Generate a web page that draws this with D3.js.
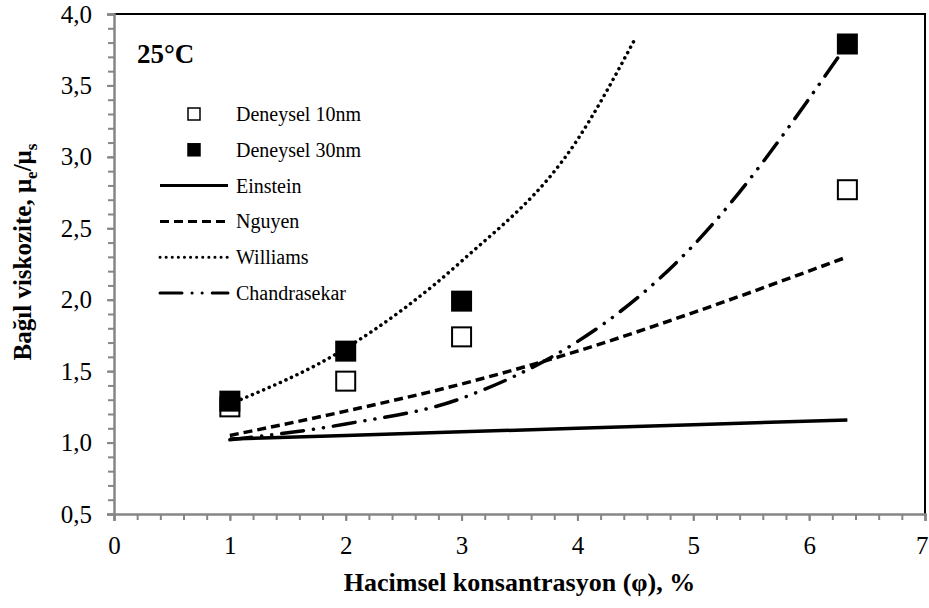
<!DOCTYPE html>
<html>
<head>
<meta charset="utf-8">
<script src="https://cdn.jsdelivr.net/npm/d3@7"></script>
<style>
  body { margin: 0; background: #fff; }
</style>
</head>
<body>
<div id="chart"></div>
<script>
// data
const expX = [1, 2, 3, 6.33];
const deneysel10 = [1.25, 1.43, 1.74, 2.77];
const deneysel30 = [1.29, 1.64, 1.99, 3.79];

const einsteinX = [1, 2, 3, 4, 5, 6.33];
const einstein = [1.025, 1.05, 1.075, 1.10, 1.125, 1.158];

const nguyenX = [1, 2, 3, 4, 5, 6.33];
const nguyen = [1.05, 1.22, 1.41, 1.64, 1.91, 2.30];

const williamsX = [1, 2, 3, 4, 4.5];
const williams = [1.27, 1.66, 2.27, 3.12, 3.83];

const chandraX = [1, 2, 3, 5, 6.33];
const chandra = [1.02, 1.13, 1.31, 2.38, 3.79];

const xTicks = [0, 1, 2, 3, 4, 5, 6, 7];
const yTicks = [0.5, 1.0, 1.5, 2.0, 2.5, 3.0, 3.5, 4.0];

const width = 929, height = 608;
const margin = {left: 114, right: 4, top: 14, bottom: 94};
const serif = "'Liberation Serif', 'Times New Roman', 'DejaVu Serif', serif";

const svg = d3.select("#chart").append("svg")
    .attr("width", width)
    .attr("height", height)
    .style("font-family", serif);

const x = d3.scaleLinear().domain([0, 7]).range([margin.left, width - margin.right]);
const y = d3.scaleLinear().domain([0.5, 4]).range([height - margin.bottom, margin.top]);

const axisGray = "#868686";

// top and right frame
svg.append("path")
    .attr("d", `M${x(0)},${y(4)}H${x(7)}V${y(0.5)}`)
    .attr("fill", "none")
    .attr("stroke", "#000")
    .attr("stroke-width", 2);

// minor ticks
svg.append("g")
    .attr("transform", `translate(0,${y(0.5)})`)
    .call(d3.axisBottom(x).tickValues(d3.range(0, 7.01, 0.2)).tickSize(6).tickFormat(""))
    .call(g => g.select(".domain").remove())
    .call(g => g.selectAll("line").attr("stroke", axisGray).attr("stroke-width", 2));

svg.append("g")
    .attr("transform", `translate(${x(0)},0)`)
    .call(d3.axisLeft(y).tickValues(d3.range(5, 41).map(d => d / 10)).tickSize(6).tickFormat(""))
    .call(g => g.select(".domain").remove())
    .call(g => g.selectAll("line").attr("stroke", axisGray).attr("stroke-width", 2));

// x-axis
svg.append("g")
    .attr("transform", `translate(0,${y(0.5)})`)
    .call(d3.axisBottom(x).tickValues(xTicks).tickSize(7).tickPadding(15).tickFormat(d3.format("d")))
    .attr("font-family", null)
    .call(g => g.select(".domain").attr("stroke", axisGray).attr("stroke-width", 2.5))
    .call(g => g.selectAll("line").attr("stroke", axisGray).attr("stroke-width", 2))
    .call(g => g.selectAll("text").style("font-size", "25px").attr("fill", "#000")
        .style("font-family", serif))
    // last label sits at the window edge; keep it inside
    .call(g => g.selectAll("text").filter(d => d === 7).attr("text-anchor", "end").attr("dx", 3));

// y-axis
svg.append("g")
    .attr("transform", `translate(${x(0)},0)`)
    .call(d3.axisLeft(y).tickValues(yTicks).tickSize(7).tickPadding(15)
        .tickFormat(d => d3.format(".1f")(d).replace(".", ",")))
    .attr("font-family", null)
    .call(g => g.select(".domain").attr("stroke", axisGray).attr("stroke-width", 2.5))
    .call(g => g.selectAll("line").attr("stroke", axisGray).attr("stroke-width", 2))
    .call(g => g.selectAll("text").style("font-size", "25px").attr("fill", "#000")
        .style("font-family", serif));

// axis titles
svg.append("text")
    .attr("x", (x(0) + x(7)) / 2)
    .attr("y", 591)
    .attr("text-anchor", "middle")
    .style("font-size", "26px")
    .style("font-weight", "bold")
    .text("Hacimsel konsantrasyon (φ), %");

const yTitle = svg.append("text")
    .attr("transform", `translate(31,252) rotate(-90)`)
    .attr("text-anchor", "middle")
    .style("font-size", "25px")
    .style("font-weight", "bold");
yTitle.append("tspan").text("Bağıl viskozite, μ");
yTitle.append("tspan").style("font-size", "17px").attr("dy", 6).text("e");
yTitle.append("tspan").attr("dy", -6).text("/μ");
yTitle.append("tspan").style("font-size", "17px").attr("dy", 6).text("s");

// 25°C label
svg.append("text")
    .attr("x", 137)
    .attr("y", 63)
    .style("font-size", "27px")
    .style("font-weight", "bold")
    .text("25°C");

// model lines
const series = [
    {name: "Einstein", xs: einsteinX, ys: einstein, dash: null, cap: "butt", curve: d3.curveLinear},
    {name: "Nguyen", xs: nguyenX, ys: nguyen, dash: "9,5", cap: "butt", curve: d3.curveMonotoneX},
    {name: "Williams", xs: williamsX, ys: williams, dash: "0.1,6", cap: "round", curve: d3.curveMonotoneX},
    {name: "Chandrasekar", xs: chandraX, ys: chandra, dash: "22,10,0.1,10,0.1,10", cap: "round", curve: d3.curveMonotoneX}
];

series.forEach(s => {
    const line = d3.line()
        .x(d => x(d[0]))
        .y(d => y(d[1]))
        .curve(s.curve);
    svg.append("path")
        .datum(s.xs.map((v, i) => [v, s.ys[i]]))
        .attr("d", line)
        .attr("fill", "none")
        .attr("stroke", "#000")
        .attr("stroke-width", 3.5)
        .attr("stroke-linecap", s.cap)
        .attr("stroke-dasharray", s.dash);
});

// experimental markers
const mk = 19;
svg.append("g").selectAll("rect")
    .data(expX.map((v, i) => [v, deneysel10[i]]))
    .enter().append("rect")
    .attr("x", d => x(d[0]) - mk / 2)
    .attr("y", d => y(d[1]) - mk / 2)
    .attr("width", mk)
    .attr("height", mk)
    .attr("fill", "#fff")
    .attr("stroke", "#000")
    .attr("stroke-width", 2);

svg.append("g").selectAll("rect")
    .data(expX.map((v, i) => [v, deneysel30[i]]))
    .enter().append("rect")
    .attr("x", d => x(d[0]) - mk / 2)
    .attr("y", d => y(d[1]) - mk / 2)
    .attr("width", mk)
    .attr("height", mk)
    .attr("fill", "#000")
    .attr("stroke", "#000")
    .attr("stroke-width", 2);

// legend
const legend = svg.append("g").attr("transform", "translate(160,114)");
const rowH = 35.8;
const legendItems = [
    {label: "Deneysel 10nm", type: "open"},
    {label: "Deneysel 30nm", type: "filled"},
    {label: "Einstein", type: "line", dash: null, cap: "butt"},
    {label: "Nguyen", type: "line", dash: "9,5", cap: "butt"},
    {label: "Williams", type: "line", dash: "0.1,6", cap: "round"},
    {label: "Chandrasekar", type: "line", dash: "22,10,0.1,10,0.1,10", cap: "round"}
];

legendItems.forEach((it, i) => {
    const g = legend.append("g").attr("transform", `translate(0,${i * rowH})`);
    if (it.type === "line") {
        g.append("line")
            .attr("x1", 0).attr("x2", 68)
            .attr("stroke", "#000")
            .attr("stroke-width", 3)
            .attr("stroke-linecap", it.cap)
            .attr("stroke-dasharray", it.dash);
    } else {
        g.append("rect")
            .attr("x", 34 - 6).attr("y", -6)
            .attr("width", 12).attr("height", 12)
            .attr("fill", it.type === "open" ? "#fff" : "#000")
            .attr("stroke", "#000")
            .attr("stroke-width", 1.5);
    }
    g.append("text")
        .attr("x", 76)
        .attr("y", 7)
        .style("font-size", "20px")
        .text(it.label);
});
</script>
</body>
</html>
